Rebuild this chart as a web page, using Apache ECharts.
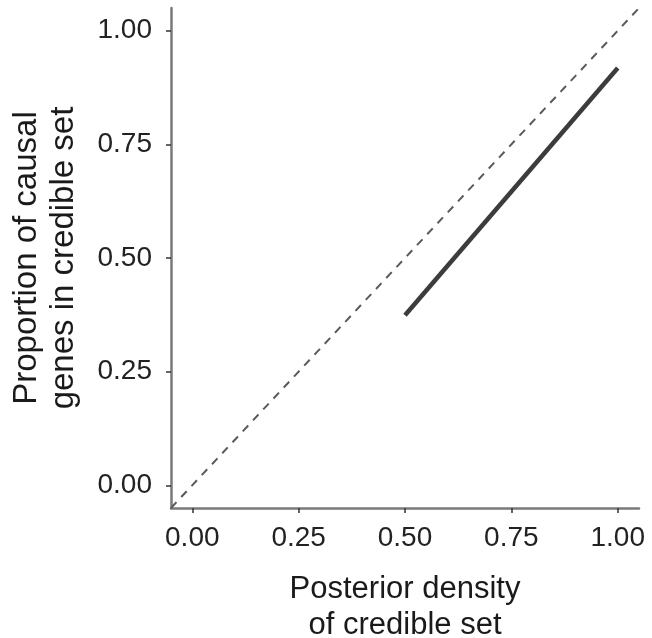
<!DOCTYPE html>
<html>
<head>
<meta charset="utf-8">
<script src="https://cdn.jsdelivr.net/npm/echarts@6/dist/echarts.min.js"></script>
<style>html,body{margin:0;padding:0;background:#fff}#c{width:652px;height:638px}</style>
</head>
<body>
<div id="c"></div>
<script>
const xTicks = [0, 0.25, 0.5, 0.75, 1.0];
const yTicks = [0, 0.25, 0.5, 0.75, 1.0];
const calibX = [0.5, 1.0];
const calibY = [0.374, 0.918];
const refX = [-0.05, 1.05];
const refY = [-0.05, 1.05];
const xTitle = 'Posterior density\nof credible set';
const yTitle = 'Proportion of causal\ngenes in credible set';

const font = '"Liberation Sans", Arial, Helvetica, sans-serif';
const chart = echarts.init(document.getElementById('c'));
chart.setOption({
  animation: false,
  backgroundColor: '#fff',
  grid: {left: 171, right: 13, top: 8, bottom: 130, containLabel: false, outerBoundsMode: 'none'},
  xAxis: {
    type: 'value', min: -0.05, max: 1.05,
    splitLine: {show: false},
    axisLine: {show: true, onZero: false, lineStyle: {color: '#7a7a7a', width: 2.5}},
    axisTick: {show: true, customValues: xTicks, length: 5, lineStyle: {color: '#333', width: 1.5}},
    axisLabel: {customValues: xTicks, formatter: v => v.toFixed(2), margin: 16, color: '#222', fontSize: 28, fontFamily: font},
    name: xTitle, nameLocation: 'middle', nameGap: 63,
    nameTextStyle: {fontSize: 31, lineHeight: 36, color: '#1a1a1a', fontFamily: font}
  },
  yAxis: {
    type: 'value', min: -0.05, max: 1.05,
    splitLine: {show: false},
    axisLine: {show: true, onZero: false, lineStyle: {color: '#7a7a7a', width: 2.5}},
    axisTick: {show: true, customValues: yTicks, length: 5, lineStyle: {color: '#333', width: 1.5}},
    axisLabel: {customValues: yTicks, formatter: v => v.toFixed(2), margin: 19, color: '#222', fontSize: 28, fontFamily: font},
    name: yTitle, nameLocation: 'middle', nameGap: 89,
    nameTextStyle: {fontSize: 33, lineHeight: 37, color: '#1a1a1a', fontFamily: font}
  },
  series: [
    {
      type: 'line', data: refX.map((x, i) => [x, refY[i]]), symbol: 'none',
      lineStyle: {color: '#5a5a5a', width: 2, type: [8, 7]}, silent: true
    },
    {
      type: 'line', data: calibX.map((x, i) => [x, calibY[i]]), symbol: 'none',
      lineStyle: {color: '#3c3c3c', width: 4.5}, silent: true
    }
  ]
});
</script>
</body>
</html>
